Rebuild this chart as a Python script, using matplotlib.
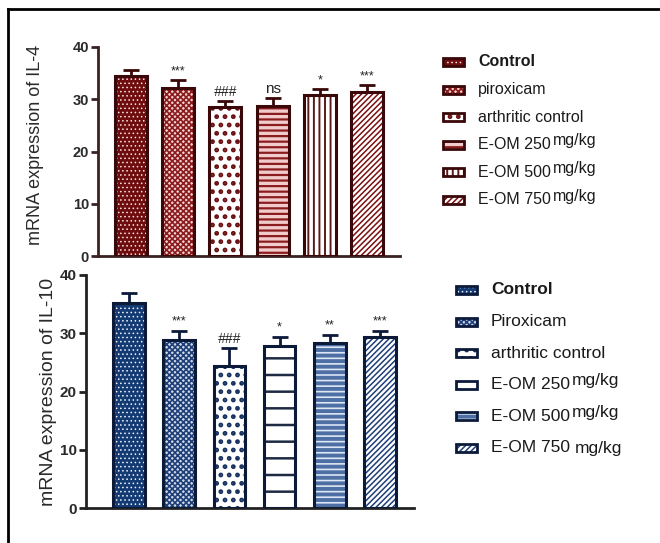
import matplotlib
matplotlib.use("Agg")
import matplotlib.pyplot as plt
from matplotlib.patches import Rectangle
from matplotlib.lines import Line2D

plt.rcParams["font.family"] = ["Liberation Sans", "DejaVu Sans"]
plt.rcParams["hatch.linewidth"] = 1.4

groups = ["Control", "piroxicam", "arthritic control", "E-OM 250", "E-OM 500", "E-OM 750"]
il4_mean = [34.4, 32.2, 28.5, 28.8, 30.8, 31.4]
il4_err = [1.2, 1.4, 1.2, 1.5, 1.1, 1.3]
il4_marks = ["", "***", "###", "ns", "*", "***"]

groups_b = ["Control", "Piroxicam", "arthritic control", "E-OM 250", "E-OM 500", "E-OM 750"]
il10_mean = [35.2, 28.8, 24.4, 27.8, 28.4, 29.4]
il10_err = [1.7, 1.6, 3.0, 1.5, 1.3, 1.0]
il10_marks = ["", "***", "###", "*", "**", "***"]

yticks = [0, 10, 20, 30, 40]

# (face, hatch colour, hatch, hatch linewidth) per bar
red_styles = [
    ("#6e0c0e", "#f6e6e6", "....", 0.6),
    ("#f4d2d2", "#8a1c1e", "xxxxxx", 1.2),
    ("white", "#6a0e10", "..", 2.2),
    ("#f2cccc", "#8a1c1e", "---", 1.6),
    ("white", "#5a1a1a", "|||", 1.4),
    ("white", "#7a1012", "//////", 1.1),
]
blue_styles = [
    ("#143a74", "#eef3fa", "....", 0.6),
    ("#d0dae9", "#1f3f78", "xxxxxx", 1.2),
    ("white", "#16305e", "..", 2.2),
    ("white", "#1e2a44", "-", 1.8),
    ("#4d6fa3", "#dde7f5", "---", 1.2),
    ("white", "#1f3f78", "//////", 1.1),
]

W, H = 660, 543


def fx(x):
    return x / W


def fy(y):
    return 1 - y / H


def set_hatch_lw(patch, lw):
    if hasattr(patch, "set_hatch_linewidth"):
        patch.set_hatch_linewidth(lw)


def draw_panel(ax, means, errs, marks, styles, edge, axis_color, width):
    x = list(range(len(means)))
    for i, (face, hcol, hatch, hlw) in enumerate(styles):
        bars = ax.bar(x[i], means[i], width=width, color=face, edgecolor=hcol, hatch=hatch,
                      linewidth=0, zorder=2)
        for b in bars:
            set_hatch_lw(b, hlw)
        ax.bar(x[i], means[i], width=width, fill=False, edgecolor=edge, linewidth=2.2, zorder=3)
    ax.errorbar(x, means, yerr=[[0] * len(errs), errs], fmt="none", ecolor=edge,
                elinewidth=2, capsize=5.5, capthick=2, zorder=4)
    for i, m in enumerate(marks):
        if not m:
            continue
        size = {"ns": 11, "###": 10}.get(m, 9)
        dy = 0.4 if m in ("ns", "###") else 0.6
        ax.text(x[i], means[i] + errs[i] + dy, m, ha="center", va="bottom",
                fontsize=size, color="#222222", style="italic" if m == "###" else "normal")
    ax.set_ylim(0, 40)
    ax.set_yticks(yticks)
    ax.set_xticks([])
    for s in ["top", "right"]:
        ax.spines[s].set_visible(False)
    for s in ["left", "bottom"]:
        ax.spines[s].set_linewidth(2)
        ax.spines[s].set_color(axis_color)
    ax.tick_params(axis="y", length=5, width=2, color=axis_color, pad=1.5)


def draw_legend(fig, labels, styles, edge, x_patch, x_text, y0, step, size, raised):
    renderer = fig.canvas.get_renderer()
    for i, (lab, (face, hcol, hatch, hlw)) in enumerate(zip(labels, styles)):
        yc = y0 + i * step
        box = (fx(x_patch), fy(yc + 4))
        r = Rectangle(box, 21 / W, 8 / H, facecolor=face, edgecolor=hcol, hatch=hatch,
                      linewidth=0, transform=fig.transFigure)
        set_hatch_lw(r, hlw)
        fig.add_artist(r)
        fig.add_artist(Rectangle(box, 21 / W, 8 / H, fill=False, edgecolor=edge, linewidth=2,
                                 transform=fig.transFigure))
        weight = "bold" if i == 0 else "normal"
        t = fig.text(fx(x_text), fy(yc), lab, fontsize=size, fontweight=weight,
                     va="center", ha="left", color="#1a1a1a")
        if lab.startswith("E-OM"):
            bb = t.get_window_extent(renderer)
            dy = 4 if raised[i] else 0
            fig.text(fx(bb.x1 + (2 if raised[i] else 5)), fy(yc - dy), "mg/kg", fontsize=size,
                     va="center", ha="left", color="#1a1a1a")


fig = plt.figure(figsize=(6.6, 5.43), dpi=100)

ax1 = fig.add_axes([fx(98), fy(256), (400 - 98) / W, (256 - 47) / H])
draw_panel(ax1, il4_mean, il4_err, il4_marks, red_styles, "#3a0808", "#3a2222", 0.68)
ax1.set_xlim(-0.7, 5.7)
ax1.set_yticklabels([str(v) for v in yticks], fontsize=10.5, fontweight="bold", color="#2a2a2a")
ax1.set_ylabel("mRNA expression of IL-4", fontsize=13, color="#2a2a2a")
ax1.yaxis.set_label_coords(-0.18, 0.53)

ax2 = fig.add_axes([fx(86), fy(508), (414 - 86) / W, (508 - 275) / H])
draw_panel(ax2, il10_mean, il10_err, il10_marks, blue_styles, "#0c1a3a", "#222222", 0.63)
ax2.set_xlim(-0.86, 5.68)
ax2.set_yticklabels([str(v) for v in yticks], fontsize=11, fontweight="bold", color="#2a2a2a")
ax2.set_ylabel("mRNA expression of IL-10", fontsize=14, color="#2a2a2a")
ax2.yaxis.set_label_coords(-0.088, 0.5)

draw_legend(fig, groups, red_styles, "#3a0808", 443, 478, 62, 27.6, 11.5,
            [False, False, False, True, True, True])
draw_legend(fig, groups_b, blue_styles, "#0c1a3a", 456, 491, 290, 31.6, 12.5,
            [False, False, False, True, True, False])

# cropped frame: top and left borders only
fig.add_artist(Line2D([fx(8), 1.0], [fy(9), fy(9)], color="black", linewidth=2, transform=fig.transFigure))
fig.add_artist(Line2D([fx(8), fx(8)], [0.0, fy(9)], color="black", linewidth=2, transform=fig.transFigure))

fig.savefig("out.png", dpi=100)
